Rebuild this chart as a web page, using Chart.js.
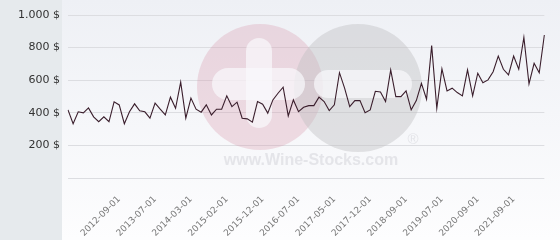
<!DOCTYPE html>
<html>
<head>
<meta charset="utf-8">
<script src="https://cdn.jsdelivr.net/npm/chart.js@4/dist/chart.umd.min.js"></script>
<style>
  html, body { margin: 0; padding: 0; background: #fff; }
  #wrap { width: 560px; height: 240px; position: relative; }
</style>
</head>
<body>
<div id="wrap"><canvas id="priceChart"></canvas></div>
<script>
// dates of the quotes (x categories)
const dates = [
  '2011-11-01', '2011-12-01', '2012-01-01', '2012-02-01', '2012-03-01', '2012-04-01', '2012-05-01', '2012-06-01', '2012-07-01', '2012-08-01',
  '2012-09-01', '2012-10-01', '2012-12-01', '2013-01-01', '2013-03-01', '2013-04-01', '2013-06-01',
  '2013-07-01', '2013-08-01', '2013-09-01', '2013-10-01', '2013-12-01', '2014-01-01', '2014-02-01',
  '2014-03-01', '2014-04-01', '2014-06-01', '2014-07-01', '2014-09-01', '2014-10-01', '2014-12-01',
  '2015-02-01', '2015-03-01', '2015-04-01', '2015-06-01', '2015-07-01', '2015-09-01', '2015-10-01',
  '2015-12-01', '2016-01-01', '2016-02-01', '2016-03-01', '2016-04-01', '2016-05-01', '2016-06-01',
  '2016-07-01', '2016-08-01', '2016-10-01', '2016-11-01', '2017-01-01', '2017-02-01', '2017-04-01',
  '2017-05-01', '2017-06-01', '2017-07-01', '2017-08-01', '2017-09-01', '2017-10-01', '2017-11-01',
  '2017-12-01', '2018-01-01', '2018-02-01', '2018-04-01', '2018-05-01', '2018-06-01', '2018-08-01',
  '2018-09-01', '2018-10-01', '2018-12-01', '2019-01-01', '2019-02-01', '2019-04-01', '2019-05-01',
  '2019-07-01', '2019-09-01', '2019-11-01', '2020-01-01', '2020-03-01', '2020-05-01', '2020-07-01',
  '2020-09-01', '2020-11-01', '2021-01-01', '2021-02-01', '2021-04-01', '2021-06-01', '2021-07-01',
  '2021-09-01', '2021-10-01', '2021-11-01', '2022-01-01', '2022-02-01', '2022-04-01', '2022-05-01'
];

// price in $
const prices = [
  418, 333, 406, 400, 430, 375, 345, 375, 345, 467,
  448, 333, 406, 455, 412, 406, 367, 459, 422, 387,
  496, 428, 588, 367, 490, 422, 404, 449, 387, 422,
  422, 504, 438, 465, 367, 363, 343, 469, 453, 398,
  479, 520, 557, 381, 479, 407, 434, 444, 444, 496,
  469, 414, 449, 646, 551, 438, 475, 475, 401, 418,
  532, 528, 469, 663, 499, 499, 534, 418, 475, 581,
  483, 812, 428, 669, 534, 551, 524, 504, 663, 504,
  643, 585, 602, 652, 748, 667, 632, 748, 667, 863,
  577, 704, 646, 877
];

// x labels that are shown
const shownDates = [
  '2012-09-01', '2013-07-01', '2014-03-01', '2015-02-01', '2015-12-01', '2016-07-01',
  '2017-05-01', '2017-12-01', '2018-09-01', '2019-07-01', '2020-09-01', '2021-09-01'
];

const yMax = 1000;
const yStep = 200;

function formatPrice(v) {
  if (v === 0) return '';
  return String(v).replace(/\B(?=(\d{3})+(?!\d))/g, '.') + ' $';
}

// background + left panel
const backgroundPlugin = {
  id: 'background',
  beforeDraw(chart) {
    const ctx = chart.ctx;
    const w = chart.width, h = chart.height;
    ctx.save();
    const grad = ctx.createLinearGradient(0, 0, 0, h);
    grad.addColorStop(0, '#eef0f5');
    grad.addColorStop(1, '#fdfdfe');
    ctx.fillStyle = grad;
    ctx.fillRect(0, 0, w, h);
    ctx.fillStyle = '#e6eaed';
    ctx.fillRect(0, 0, 62, h);
    ctx.restore();
  }
};

function roundRect(ctx, x, y, w, h, r) {
  ctx.beginPath();
  ctx.moveTo(x + r, y);
  ctx.arcTo(x + w, y, x + w, y + h, r);
  ctx.arcTo(x + w, y + h, x, y + h, r);
  ctx.arcTo(x, y + h, x, y, r);
  ctx.arcTo(x, y, x + w, y, r);
  ctx.closePath();
  ctx.fill();
}

// site watermark
const watermarkPlugin = {
  id: 'watermark',
  beforeDatasetsDraw(chart) {
    const ctx = chart.ctx;
    ctx.save();
    ctx.fillStyle = 'rgba(214,150,170,0.3)';
    ctx.beginPath();
    ctx.arc(260, 87, 63, 0, Math.PI * 2);
    ctx.fill();
    ctx.fillStyle = 'rgba(190,190,192,0.42)';
    ctx.beginPath();
    ctx.arc(358, 88, 64, 0, Math.PI * 2);
    ctx.fill();
    ctx.fillStyle = 'rgba(250,250,252,0.7)';
    roundRect(ctx, 246, 38, 26, 90, 13);
    roundRect(ctx, 212, 68, 93, 32, 16);
    roundRect(ctx, 314, 70, 98, 28, 14);
    ctx.fillStyle = 'rgba(205,205,210,0.45)';
    ctx.font = 'bold 16px "Liberation Sans", Arial, sans-serif';
    ctx.textAlign = 'center';
    ctx.textBaseline = 'alphabetic';
    ctx.fillText('www.Wine-Stocks.com', 311, 165);
    ctx.font = '15px "Liberation Sans", Arial, sans-serif';
    ctx.fillText('®', 413, 144);
    ctx.restore();
  }
};

const ctx = document.getElementById('priceChart').getContext('2d');
const chart = new Chart(ctx, {
  type: 'line',
  data: {
    labels: dates,
    datasets: [{
      data: prices,
      borderColor: '#3a1e2c',
      borderWidth: 1.1,
      pointRadius: 0,
      tension: 0,
      fill: false
    }]
  },
  options: {
    responsive: true,
    maintainAspectRatio: false,
    animation: false,
    layout: { padding: { top: 15, right: 5, left: 0, bottom: 0 } },
    plugins: {
      legend: { display: false },
      tooltip: { enabled: false }
    },
    scales: {
      x: {
        grid: { display: false },
        border: { display: false },
        ticks: {
          autoSkip: false,
          maxRotation: 45,
          minRotation: 45,
          padding: 8,
          color: '#777',
          font: { family: 'DejaVu Sans', size: 9 },
          callback: function (value, index) {
            const d = dates[index];
            return shownDates.includes(d) ? d : '';
          }
        },
        afterFit: function (scale) { scale.height = 62; }
      },
      y: {
        min: 0,
        max: yMax,
        grid: { color: '#dcdde1', drawTicks: false },
        border: { display: false },
        ticks: {
          stepSize: yStep,
          padding: 8,
          color: '#333',
          font: { family: 'DejaVu Sans', size: 11 },
          callback: formatPrice
        },
        afterFit: function (scale) { scale.width = 68; }
      }
    }
  },
  plugins: [backgroundPlugin, watermarkPlugin]
});
</script>
</body>
</html>
